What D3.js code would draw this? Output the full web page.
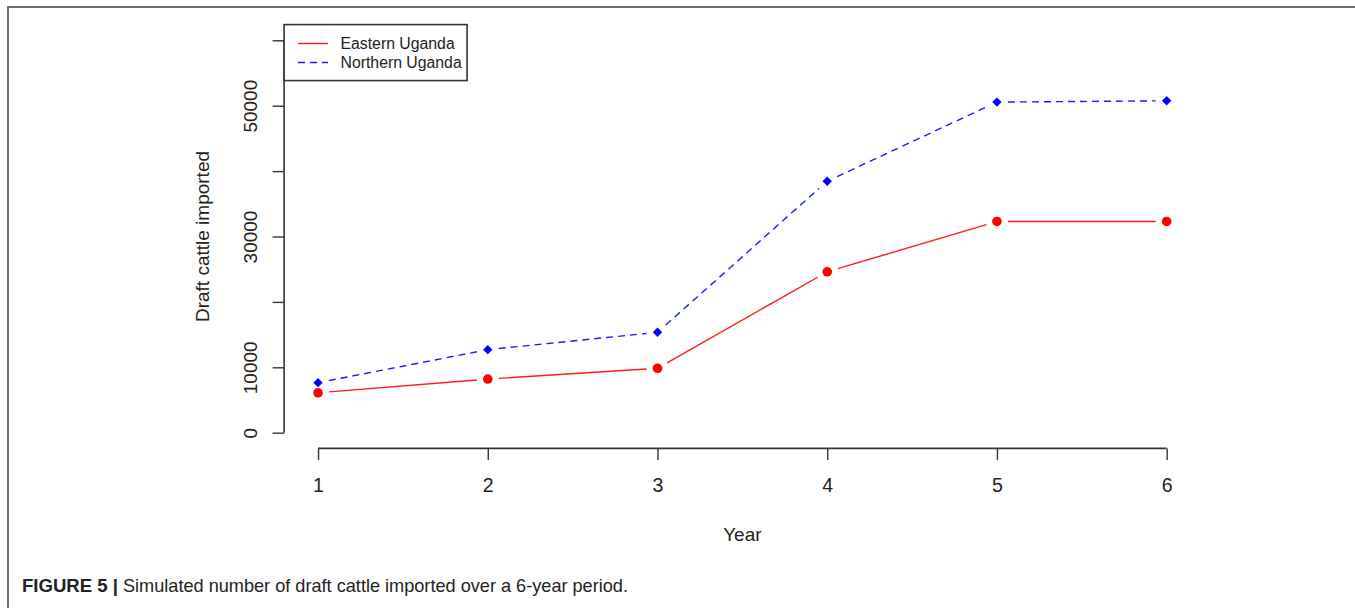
<!DOCTYPE html>
<html>
<head>
<meta charset="utf-8">
<script src="https://cdn.jsdelivr.net/npm/d3@7"></script>
<style>
  html, body { margin: 0; padding: 0; background: #fff; }
  svg { display: block; }
  text { font-family: "Liberation Sans", Arial, sans-serif; fill: #222; }
</style>
</head>
<body>
<svg id="chart" width="1355" height="608"></svg>
<script>
// ---- data ----
const years = [1, 2, 3, 4, 5, 6];
const easternUganda = [6100, 8200, 9850, 24600, 32300, 32300];
const northernUganda = [7650, 12700, 15350, 38450, 50550, 50750];
const yTickValues = [0, 10000, 20000, 30000, 40000, 50000, 60000];
const yTickLabels = ["0", "10000", "", "30000", "", "50000", ""];
const xTickLabels = ["1", "2", "3", "4", "5", "6"];
const seriesNames = ["Eastern Uganda", "Northern Uganda"];
const xTitle = "Year";
const yTitle = "Draft cattle imported";
const captionBold = "FIGURE 5 |";
const captionText = "Simulated number of draft cattle imported over a 6-year period.";

const svg = d3.select("#chart");

// frame
svg.append("path")
  .attr("d", "M8,608 L8,7 L1355,7")
  .attr("fill", "none").attr("stroke", "#6e6e6e").attr("stroke-width", 2);

const x = d3.scaleLinear().domain([0.8, 6.2]).range([284.1, 1200.6]);
const y = d3.scaleLinear().domain([-2400, 62400]).range([448.4, 24.6]);
const axisColor = "#333";

// x axis
const xAxis = svg.append("g").attr("transform", `translate(0,${y(-2400)})`)
  .call(d3.axisBottom(x).tickValues(years).tickSize(11.5).tickSizeOuter(0)
    .tickFormat((d, i) => xTickLabels[i]));
xAxis.select(".domain").remove();
xAxis.selectAll(".tick line").attr("stroke", axisColor).attr("stroke-width", 1.4);
xAxis.selectAll(".tick text").attr("y", 0).attr("dy", 0)
  .attr("transform", "translate(0,43.3)")
  .style("font-size", "19.5px").style("font-family", "'Liberation Sans', Arial, sans-serif").attr("fill", "#222");
xAxis.append("line").attr("x1", x(years[0])).attr("x2", x(years[years.length - 1]))
  .attr("stroke", axisColor).attr("stroke-width", 1.6);

// y axis
const yAxis = svg.append("g").attr("transform", `translate(${x(0.8)},0)`)
  .call(d3.axisLeft(y).tickValues(yTickValues).tickSize(11.5).tickSizeOuter(0)
    .tickFormat((d, i) => yTickLabels[i]));
yAxis.select(".domain").remove();
yAxis.selectAll(".tick line").attr("stroke", axisColor).attr("stroke-width", 1.4);
yAxis.selectAll(".tick text").attr("x", 0).attr("dy", 0)
  .attr("text-anchor", "middle")
  .attr("transform", "translate(-27.5,0) rotate(-90)")
  .style("font-size", "19px").style("font-family", "'Liberation Sans', Arial, sans-serif").attr("fill", "#222");
yAxis.append("line").attr("y1", y(yTickValues[0])).attr("y2", y(yTickValues[yTickValues.length - 1]))
  .attr("stroke", axisColor).attr("stroke-width", 1.6);

// axis titles
svg.append("text").attr("x", (x(0.8) + x(6.2)) / 2).attr("y", 540.7)
  .attr("text-anchor", "middle").style("font-size", "19px").text(xTitle);
svg.append("text").attr("transform", `translate(208.6,${(y(-2400) + y(62400)) / 2}) rotate(-90)`)
  .attr("text-anchor", "middle").style("font-size", "19px").text(yTitle);

// series with gaps (type="b")
const gap = 11;
function segments(values) {
  const pts = years.map((yr, i) => [x(yr), y(values[i])]);
  const segs = [];
  for (let i = 0; i < pts.length - 1; i++) {
    const [x0, y0] = pts[i], [x1, y1] = pts[i + 1];
    const len = Math.hypot(x1 - x0, y1 - y0);
    const ux = (x1 - x0) / len, uy = (y1 - y0) / len;
    segs.push([x0 + ux * gap, y0 + uy * gap, x1 - ux * gap, y1 - uy * gap]);
  }
  return segs;
}

svg.append("g").selectAll("line").data(segments(easternUganda)).join("line")
  .attr("x1", d => d[0]).attr("y1", d => d[1]).attr("x2", d => d[2]).attr("y2", d => d[3])
  .attr("stroke", "#ff1a1a").attr("stroke-width", 1.4);
svg.append("g").selectAll("line").data(segments(northernUganda)).join("line")
  .attr("x1", d => d[0]).attr("y1", d => d[1]).attr("x2", d => d[2]).attr("y2", d => d[3])
  .attr("stroke", "#1a1aff").attr("stroke-width", 1.4).attr("stroke-dasharray", "7,5");

svg.append("g").selectAll("circle").data(easternUganda).join("circle")
  .attr("cx", (d, i) => x(years[i])).attr("cy", d => y(d)).attr("r", 4.8).attr("fill", "#ff0000");
svg.append("g").selectAll("path").data(northernUganda).join("path")
  .attr("d", d3.symbol(d3.symbolSquare, 44))
  .attr("transform", (d, i) => `translate(${x(years[i])},${y(d)}) rotate(45)`)
  .attr("fill", "#0000ff");

// legend
const lg = svg.append("g");
lg.append("rect").attr("x", x(0.8)).attr("y", y(62400)).attr("width", 183).attr("height", 56)
  .attr("fill", "#fff").attr("stroke", "#333").attr("stroke-width", 1.6);
const legendColors = ["#ff1a1a", "#1a1aff"];
const legendDash = [null, "7,5"];
seriesNames.forEach((name, i) => {
  const ly = 43.5 + i * 19;
  lg.append("line").attr("x1", 298).attr("x2", 328).attr("y1", ly).attr("y2", ly)
    .attr("stroke", legendColors[i]).attr("stroke-width", 1.4).attr("stroke-dasharray", legendDash[i]);
  lg.append("text").attr("x", 340.5).attr("y", ly + 5.6).style("font-size", "15.8px").text(name);
});

// caption
svg.append("text").attr("x", 22).attr("y", 592).style("font-size", "18.5px").style("font-weight", "bold")
  .attr("textLength", 96).attr("lengthAdjust", "spacingAndGlyphs").text(captionBold);
svg.append("text").attr("x", 123).attr("y", 592).style("font-size", "18.5px")
  .attr("textLength", 505).attr("lengthAdjust", "spacingAndGlyphs").text(captionText);
</script>
</body>
</html>
